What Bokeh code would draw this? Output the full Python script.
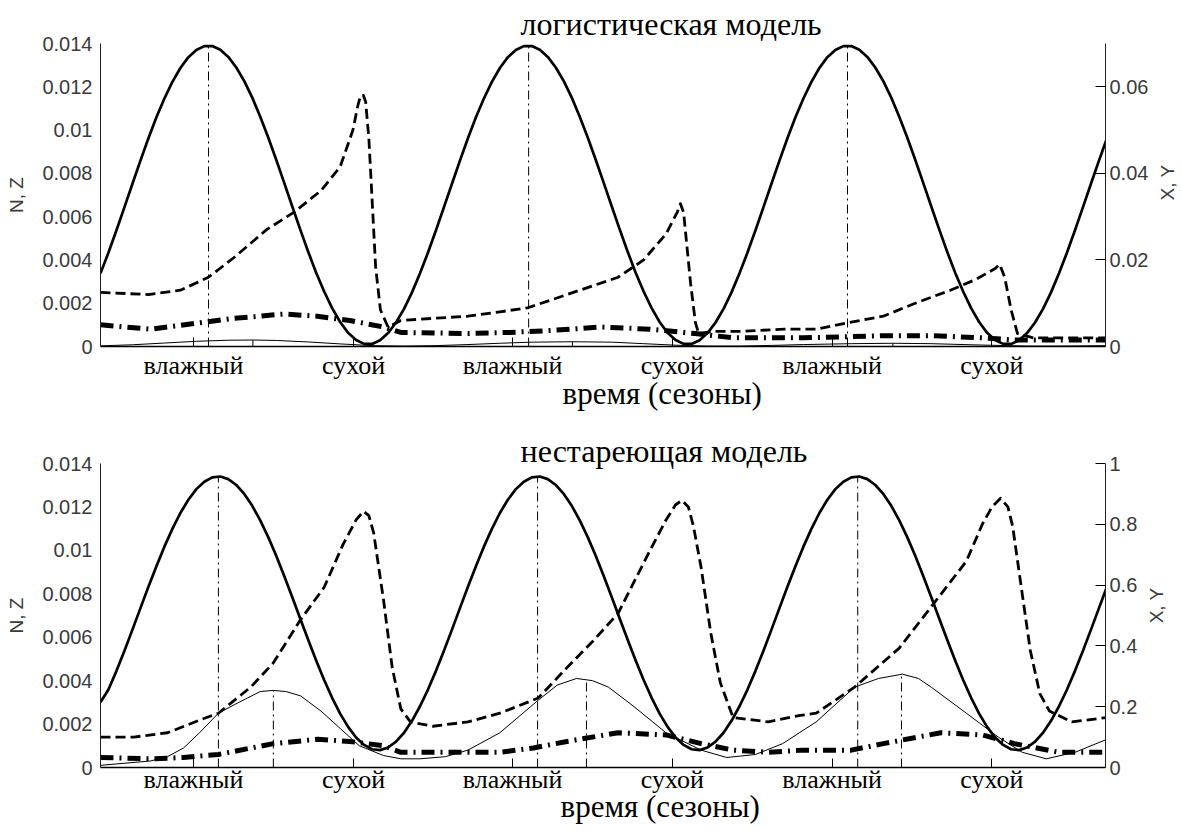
import math
from bokeh.plotting import figure
from bokeh.models import Range1d, LinearAxis, FixedTicker, Title
from bokeh.core.properties import value
from bokeh.layouts import column, row
from bokeh.embed import file_html
from bokeh.resources import INLINE

# ---------------- data ----------------
T_END = 3.1455  # time span (years) shown on x

season_ticks = [0.291, 0.792, 1.29, 1.79, 2.29, 2.79]
season_labels = ["влажный", "сухой", "влажный", "сухой", "влажный", "сухой"]

left_ticks = [0, 0.002, 0.004, 0.006, 0.008, 0.01, 0.012, 0.014]
left_labels = ["0", "0.002", "0.004", "0.006", "0.008", "0.01", "0.012", "0.014"]
top_right_ticks = [0, 0.02, 0.04, 0.06]
top_right_labels = ["0", "0.02", "0.04", "0.06"]
bot_right_ticks = [0, 0.2, 0.4, 0.6, 0.8, 1]
bot_right_labels = ["0", "0.2", "0.4", "0.6", "0.8", "1"]

t_grid = [0.0, 0.025, 0.05, 0.075, 0.1, 0.125, 0.15, 0.175, 0.2, 0.225, 0.25, 0.275, 0.3, 0.325,
          0.35, 0.375, 0.4, 0.425, 0.45, 0.475, 0.5, 0.525, 0.55, 0.575, 0.6, 0.625, 0.65, 0.675,
          0.7, 0.725, 0.75, 0.775, 0.8, 0.825, 0.85, 0.875, 0.9, 0.925, 0.95, 0.975,
          1.0, 1.025, 1.05, 1.075, 1.1, 1.125, 1.15, 1.175, 1.2, 1.225, 1.25, 1.275, 1.3, 1.325,
          1.35, 1.375, 1.4, 1.425, 1.45, 1.475, 1.5, 1.525, 1.55, 1.575, 1.6, 1.625, 1.65, 1.675,
          1.7, 1.725, 1.75, 1.775, 1.8, 1.825, 1.85, 1.875, 1.9, 1.925, 1.95, 1.975,
          2.0, 2.025, 2.05, 2.075, 2.1, 2.125, 2.15, 2.175, 2.2, 2.225, 2.25, 2.275, 2.3, 2.325,
          2.35, 2.375, 2.4, 2.425, 2.45, 2.475, 2.5, 2.525, 2.55, 2.575, 2.6, 2.625, 2.65, 2.675,
          2.7, 2.725, 2.75, 2.775, 2.8, 2.825, 2.85, 2.875, 2.9, 2.925, 2.95, 2.975,
          3.0, 3.025, 3.05, 3.075, 3.1, 3.125, 3.15]

# --- logistic model (top) ---
top_solid = [0.00338, 0.00434, 0.00537, 0.00644, 0.00752, 0.00859, 0.00962, 0.01059, 0.01146, 0.01223,
             0.01287, 0.01337, 0.01370, 0.01388, 0.01388, 0.01371, 0.01338, 0.01289, 0.01226, 0.01150,
             0.01062, 0.00966, 0.00863, 0.00756, 0.00648, 0.00541, 0.00438, 0.00341, 0.00254, 0.00177,
             0.00113, 0.00063, 0.00030, 0.00012, 0.00012, 0.00029, 0.00062, 0.00111, 0.00174, 0.00250,
             0.00338, 0.00434, 0.00537, 0.00644, 0.00752, 0.00859, 0.00962, 0.01059, 0.01146, 0.01223,
             0.01287, 0.01337, 0.01370, 0.01388, 0.01388, 0.01371, 0.01338, 0.01289, 0.01226, 0.01150,
             0.01062, 0.00966, 0.00863, 0.00756, 0.00648, 0.00541, 0.00438, 0.00341, 0.00254, 0.00177,
             0.00113, 0.00063, 0.00030, 0.00012, 0.00012, 0.00029, 0.00062, 0.00111, 0.00174, 0.00250,
             0.00338, 0.00434, 0.00537, 0.00644, 0.00752, 0.00859, 0.00962, 0.01059, 0.01146, 0.01223,
             0.01287, 0.01337, 0.01370, 0.01388, 0.01388, 0.01371, 0.01338, 0.01289, 0.01226, 0.01150,
             0.01062, 0.00966, 0.00863, 0.00756, 0.00648, 0.00541, 0.00438, 0.00341, 0.00254, 0.00177,
             0.00113, 0.00063, 0.00030, 0.00012, 0.00012, 0.00029, 0.00062, 0.00111, 0.00174, 0.00250,
             0.00338, 0.00434, 0.00537, 0.00644, 0.00752, 0.00859, 0.00962]

top_dash_t = [0, 0.15, 0.25, 0.338, 0.417, 0.52, 0.605, 0.69, 0.75, 0.79, 0.805, 0.814, 0.823, 0.83,
              0.84, 0.85, 0.861, 0.876, 0.90, 0.94, 1.04, 1.15, 1.25, 1.34, 1.44, 1.52, 1.62, 1.70,
              1.77, 1.805, 1.815, 1.825, 1.835, 1.847, 1.862, 1.872, 1.92, 2.0, 2.14, 2.24, 2.34,
              2.45, 2.55, 2.66, 2.74, 2.80, 2.814, 2.83, 2.85, 2.87, 2.92, 3.0, 3.15]
top_dash = [0.0025, 0.0024, 0.0026, 0.0032, 0.0041, 0.0054, 0.0062, 0.0072, 0.0083, 0.0100, 0.0111,
            0.0116, 0.0116, 0.0113, 0.0096, 0.0068, 0.0037, 0.0017, 0.0009, 0.0012, 0.0013, 0.0014,
            0.0016, 0.0018, 0.0023, 0.0027, 0.0032, 0.0040, 0.0052, 0.0062, 0.0066, 0.0062, 0.0047,
            0.0029, 0.0011, 0.0006, 0.0007, 0.0007, 0.0008, 0.0008, 0.0011, 0.0014, 0.0020, 0.0026,
            0.0031, 0.0036, 0.0038, 0.0032, 0.0017, 0.0006, 0.0004, 0.0004, 0.0004]

top_dd_t = [0, 0.156, 0.313, 0.417, 0.574, 0.678, 0.78, 0.886, 0.94, 1.15, 1.28, 1.41, 1.565, 1.72,
            1.86, 1.98, 2.2, 2.45, 2.6, 2.76, 2.86, 3.0, 3.15]
top_dd = [0.0010, 0.0008, 0.0011, 0.0013, 0.0015, 0.0014, 0.0012, 0.0009, 0.00065, 0.0006, 0.00065,
          0.00074, 0.0009, 0.0008, 0.0006, 0.0004, 0.0004, 0.0005, 0.0005, 0.0004, 0.0003, 0.0003, 0.0003]

top_thin_t = [0, 0.1, 0.2, 0.3, 0.4, 0.477, 0.55, 0.65, 0.75, 0.85, 0.95, 1.05, 1.15, 1.25, 1.35,
              1.477, 1.6, 1.7, 1.8, 1.9, 2.0, 2.1, 2.2, 2.35, 2.48, 2.6, 2.75, 2.9, 3.0, 3.15]
top_thin = [0.00003, 0.00008, 0.00016, 0.00024, 0.00029, 0.0003, 0.00028, 0.00021, 0.00012, 0.00004,
            0.00002, 0.00004, 0.00009, 0.00015, 0.0002, 0.00022, 0.0002, 0.00013, 0.00006, 0.00002,
            0.00002, 0.00005, 0.00009, 0.00013, 0.00015, 0.00013, 0.00007, 0.00002, 0.00002, 0.00004]

top_peak_t = [0.338, 1.34, 2.338, 0.477, 1.477, 2.48]
top_peak_v = [0.0139, 0.0139, 0.0139, 0.0003, 0.00022, 0.00015]

# --- non-ageing model (bottom) ---
bot_solid = [0.00300, 0.00359, 0.00445, 0.00538, 0.00635, 0.00734, 0.00832, 0.00927, 0.01017, 0.01099,
             0.01172, 0.01233, 0.01282, 0.01316, 0.01336, 0.01340, 0.01328, 0.01301, 0.01260, 0.01205,
             0.01138, 0.01061, 0.00975, 0.00882, 0.00785, 0.00686, 0.00588, 0.00493, 0.00403, 0.00321,
             0.00248, 0.00187, 0.00138, 0.00104, 0.00084, 0.00080, 0.00092, 0.00119, 0.00160, 0.00215,
             0.00282, 0.00359, 0.00445, 0.00538, 0.00635, 0.00734, 0.00832, 0.00927, 0.01017, 0.01099,
             0.01172, 0.01233, 0.01282, 0.01316, 0.01336, 0.01340, 0.01328, 0.01301, 0.01260, 0.01205,
             0.01138, 0.01061, 0.00975, 0.00882, 0.00785, 0.00686, 0.00588, 0.00493, 0.00403, 0.00321,
             0.00248, 0.00187, 0.00138, 0.00104, 0.00084, 0.00080, 0.00092, 0.00119, 0.00160, 0.00215,
             0.00282, 0.00359, 0.00445, 0.00538, 0.00635, 0.00734, 0.00832, 0.00927, 0.01017, 0.01099,
             0.01172, 0.01233, 0.01282, 0.01316, 0.01336, 0.01340, 0.01328, 0.01301, 0.01260, 0.01205,
             0.01138, 0.01061, 0.00975, 0.00882, 0.00785, 0.00686, 0.00588, 0.00493, 0.00403, 0.00321,
             0.00248, 0.00187, 0.00138, 0.00104, 0.00084, 0.00080, 0.00092, 0.00119, 0.00160, 0.00215,
             0.00282, 0.00359, 0.00445, 0.00538, 0.00635, 0.00734, 0.00832]

bot_dash_t = [0, 0.104, 0.21, 0.313, 0.369, 0.47, 0.54, 0.626, 0.70, 0.76, 0.80, 0.823, 0.84, 0.855,
              0.886, 0.913, 0.94, 0.97, 1.04, 1.15, 1.25, 1.37, 1.46, 1.54, 1.62, 1.72, 1.77, 1.80,
              1.82, 1.84, 1.856, 1.88, 1.91, 1.94, 1.98, 2.09, 2.19, 2.24, 2.36, 2.50, 2.60, 2.71,
              2.76, 2.79, 2.817, 2.84, 2.855, 2.88, 2.91, 2.94, 2.97, 3.04, 3.15]
bot_dash = [0.0014, 0.0014, 0.0016, 0.0022, 0.0025, 0.0037, 0.0048, 0.0068, 0.0083, 0.0103, 0.0114,
            0.0118, 0.0116, 0.0108, 0.0077, 0.0046, 0.0027, 0.0021, 0.0019, 0.0021, 0.0025, 0.0032,
            0.0046, 0.0058, 0.0071, 0.0100, 0.0114, 0.0121, 0.0123, 0.0120, 0.0111, 0.0092, 0.0062,
            0.0039, 0.0023, 0.0021, 0.0024, 0.0025, 0.0037, 0.0055, 0.0074, 0.0095, 0.0112, 0.0120,
            0.0124, 0.0120, 0.0111, 0.0085, 0.0054, 0.0034, 0.0026, 0.0021, 0.0023]

bot_thin_t = [0, 0.156, 0.21, 0.26, 0.31, 0.369, 0.42, 0.46, 0.50, 0.541, 0.58, 0.626, 0.69, 0.75,
              0.81, 0.886, 0.94, 1.0, 1.08, 1.15, 1.25, 1.37, 1.43, 1.49, 1.54, 1.59, 1.67, 1.77,
              1.88, 1.96, 2.05, 2.135, 2.24, 2.36, 2.435, 2.51, 2.56, 2.60, 2.71, 2.81, 2.885, 2.96,
              3.05, 3.15]
bot_thin = [0.0001, 0.0003, 0.0005, 0.0009, 0.0016, 0.0025, 0.0029, 0.0032, 0.0035, 0.00355, 0.0035,
            0.0033, 0.0026, 0.0018, 0.0010, 0.00055, 0.0004, 0.0004, 0.0005, 0.0008, 0.0016, 0.0031,
            0.0038, 0.0041, 0.0040, 0.0037, 0.0028, 0.0016, 0.0008, 0.00046, 0.0006, 0.0011, 0.0021,
            0.0037, 0.0041, 0.0043, 0.0041, 0.0037, 0.0025, 0.0014, 0.0007, 0.0004, 0.0007, 0.0013]

bot_dd_t = [0, 0.156, 0.26, 0.369, 0.541, 0.68, 0.78, 0.886, 0.94, 1.1, 1.25, 1.355, 1.46, 1.62, 1.77,
            1.88, 1.98, 2.09, 2.2, 2.35, 2.45, 2.63, 2.76, 2.86, 3.0, 3.15]
bot_dd = [0.00046, 0.0004, 0.00046, 0.0006, 0.0011, 0.0013, 0.0012, 0.0010, 0.0007, 0.0007, 0.0007,
          0.0009, 0.0012, 0.0016, 0.0015, 0.0011, 0.0008, 0.0007, 0.0008, 0.0008, 0.0011, 0.0016,
          0.0015, 0.0011, 0.0007, 0.0007]

bot_peak_t = [0.369, 1.368, 2.370, 0.541, 1.521, 2.507]
bot_peak_v = [0.0134, 0.0134, 0.0134, 0.00355, 0.0041, 0.0043]

SERIF = "Liberation Serif"
SANS = "Liberation Sans"
GREY = "#3a3a3a"


def make_panel(width, height, top, bottom, right_max, r_ticks, r_labels, tick_standoff,
               title, title_offset, title_standoff, xlabel, xlabel_offset, xlabel_standoff,
               solid, dash_t, dash, dd_t, dd, thin_t, thin, peak_t, peak_v):
    p = figure(width=width, height=height, output_backend="svg", toolbar_location=None,
               x_range=Range1d(0, T_END), y_range=Range1d(0, 0.014),
               min_border_left=100, min_border_right=width - 1105, min_border_top=top,
               min_border_bottom=bottom)
    p.outline_line_color = None
    p.xgrid.visible = False
    p.ygrid.visible = False
    p.background_fill_color = "white"
    p.border_fill_color = "white"
    p.extra_y_ranges = {"r": Range1d(0, right_max)}

    # curves
    p.segment(x0=peak_t, y0=0, x1=peak_t, y1=peak_v, line_color="black",
              line_width=1, line_dash="9 4 2 4")
    p.line(thin_t, thin, line_color="black", line_width=1, line_join="round")
    p.line(dd_t, dd, line_color="black", line_width=5, line_dash="13 6 2 6")
    p.line(dash_t, dash, line_color="black", line_width=2.8, line_dash="10 5",
           line_join="round")
    p.line(t_grid, solid, line_color="black", line_width=2.7, line_join="round")

    # x axis
    xa = p.xaxis[0]
    xa.ticker = FixedTicker(ticks=season_ticks, minor_ticks=[])
    xa.major_label_overrides = {t: l for t, l in zip(season_ticks, season_labels)}
    xa.major_tick_in = 9
    xa.major_tick_out = 0
    xa.minor_tick_line_color = None
    xa.axis_line_width = 1.5
    xa.major_label_standoff = tick_standoff
    xa.major_label_text_font = SERIF
    xa.major_label_text_font_size = "26px"
    xa.major_label_text_color = "black"

    # left axis
    ya = p.yaxis[0]
    ya.ticker = FixedTicker(ticks=left_ticks, minor_ticks=[])
    ya.major_label_overrides = {t: l for t, l in zip(left_ticks, left_labels)}
    ya.major_tick_in = 0
    ya.major_tick_out = 0
    ya.minor_tick_line_color = None
    ya.major_label_standoff = 8
    ya.major_label_text_font = SANS
    ya.major_label_text_font_size = "20px"
    ya.major_label_text_color = GREY
    ya.axis_line_color = "#222222"
    ya.axis_label = "N, Z"
    ya.axis_label_text_font = SANS
    ya.axis_label_text_font_style = "normal"
    ya.axis_label_text_font_size = "19px"
    ya.axis_label_text_color = GREY
    ya.axis_label_standoff = 12

    # right axis
    ra = LinearAxis(y_range_name="r",
                    ticker=FixedTicker(ticks=r_ticks, minor_ticks=[]))
    ra.major_label_overrides = {t: l for t, l in zip(r_ticks, r_labels)}
    ra.major_tick_in = 10
    ra.major_tick_out = 0
    ra.minor_tick_line_color = None
    ra.major_label_standoff = 4
    ra.major_label_text_font = SANS
    ra.major_label_text_font_size = "20px"
    ra.major_label_text_color = GREY
    ra.axis_line_color = "#222222"
    p.add_layout(ra, "right")

    t_above = Title(text=title, align="left", offset=title_offset, standoff=title_standoff,
                    text_font=SERIF, text_font_size="32px", text_font_style="normal",
                    text_color="black")
    p.add_layout(t_above, "above")
    t_below = Title(text=xlabel, align="left", offset=xlabel_offset, standoff=xlabel_standoff,
                    text_font=SERIF, text_font_size="31px", text_font_style="normal",
                    text_color="black")
    p.add_layout(t_below, "below")
    return p


def side_label(width, height, cx, cy):
    """Narrow strip to the right holding the rotated right-axis label."""
    s = figure(width=width, height=height, output_backend="svg", toolbar_location=None,
               x_range=Range1d(0, width), y_range=Range1d(0, height),
               x_axis_location=None, y_axis_location=None, min_border=0)
    s.outline_line_color = None
    s.xgrid.visible = False
    s.ygrid.visible = False
    s.background_fill_color = "white"
    s.border_fill_color = "white"
    s.text(x=[cx], y=[cy], text=["X, Y"], angle=math.pi / 2, text_align="center",
           text_baseline="middle", text_font=value(SANS), text_font_size="19px",
           text_color=GREY)
    return s


p1 = make_panel(1156, 425, 43, 79, 0.07, top_right_ticks, top_right_labels, 4,
                "логистическая модель", 420, 4, "время (сезоны)", 462, -17,
                top_solid, top_dash_t, top_dash, top_dd_t, top_dd, top_thin_t, top_thin,
                top_peak_t, top_peak_v)
s1 = side_label(26, 425, 11, 230)
p2 = make_panel(1142, 407, 38, 65, 1.0, bot_right_ticks, bot_right_labels, -3,
                "нестареющая модель", 420, -10, "время (сезоны)", 460, -20,
                bot_solid, bot_dash_t, bot_dash, bot_dd_t, bot_dd, bot_thin_t, bot_thin,
                bot_peak_t, bot_peak_v)
s2 = side_label(40, 407, 14, 217)

layout = column(row(p1, s1, spacing=0), row(p2, s2, spacing=0), spacing=0)
open("out.html", "w").write(file_html(layout, INLINE))
